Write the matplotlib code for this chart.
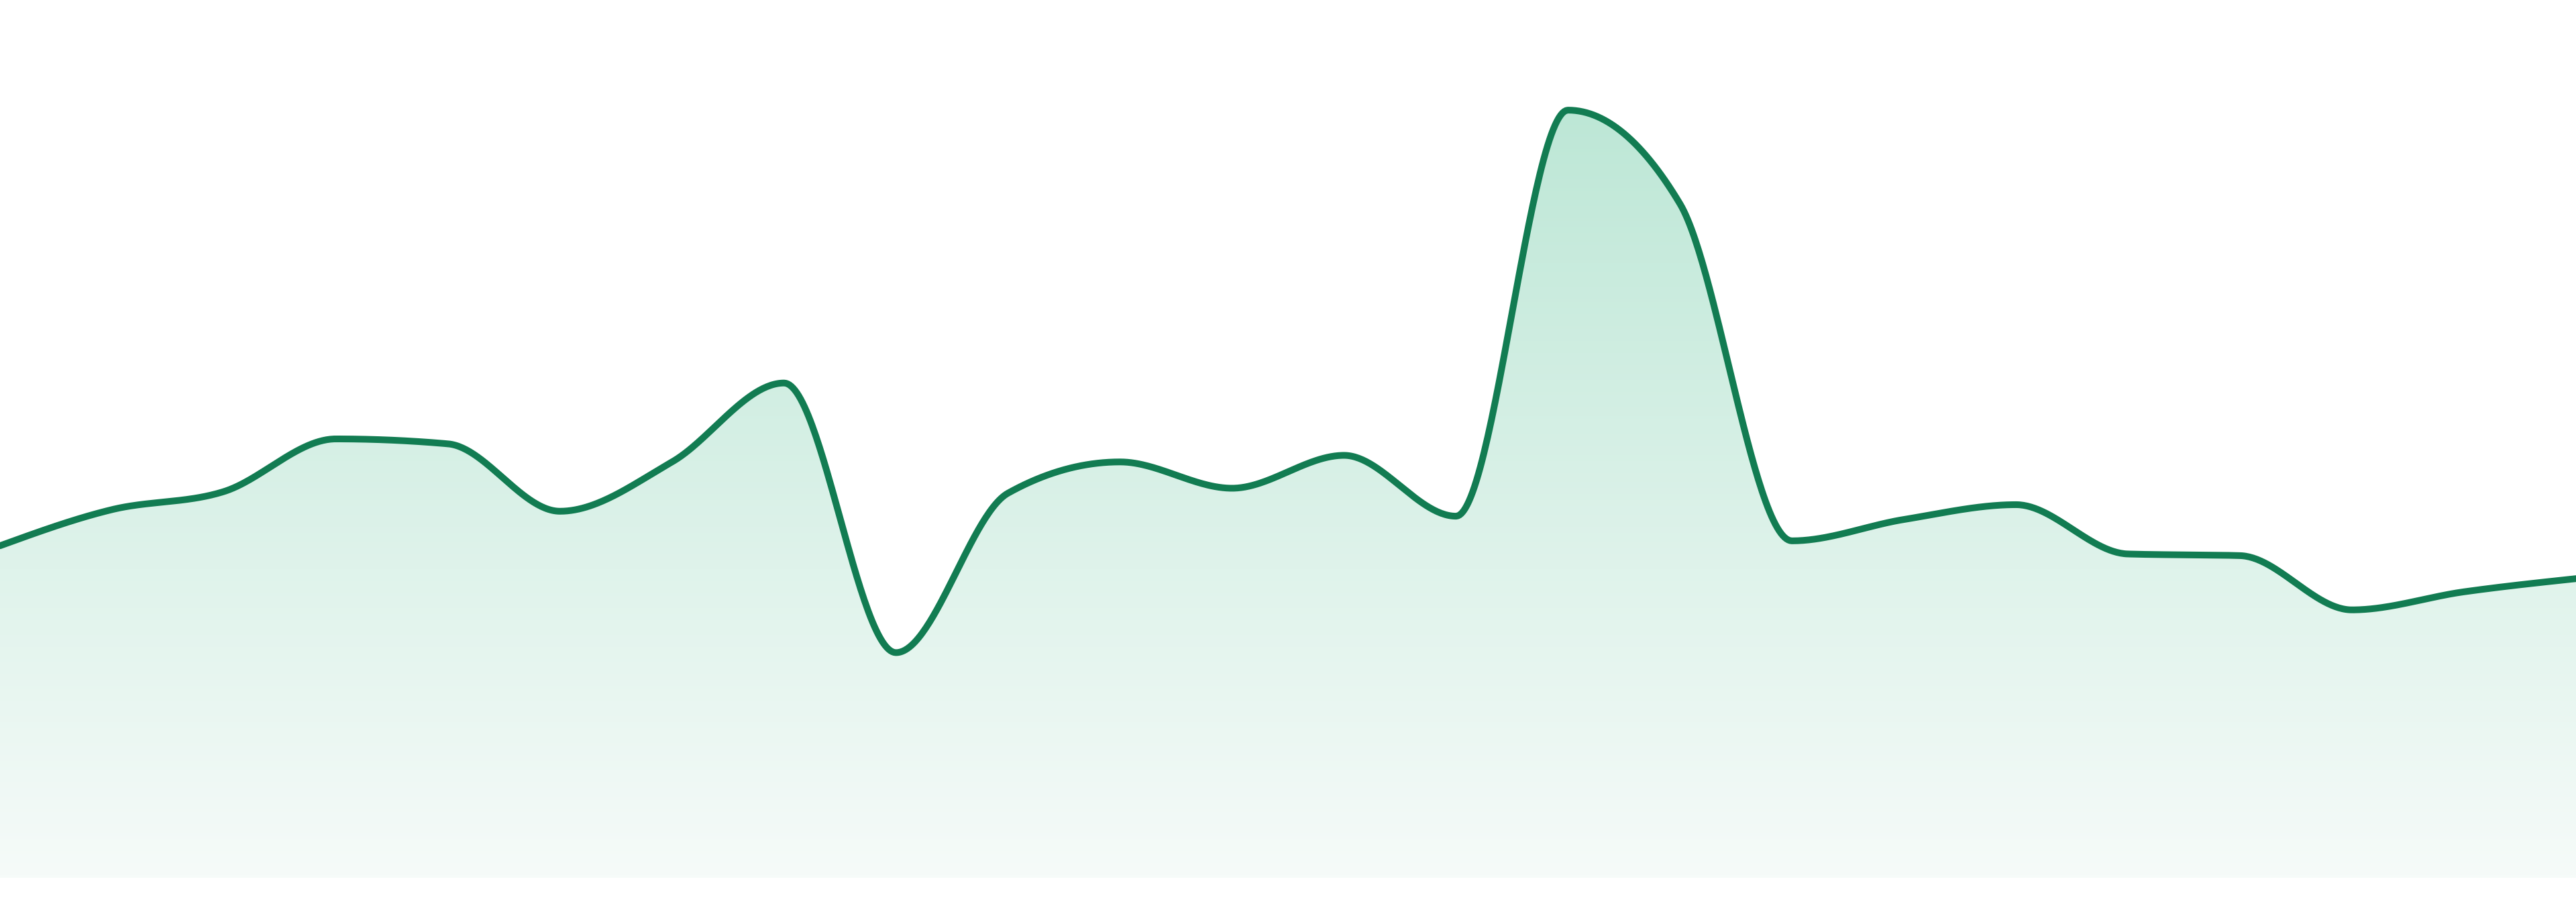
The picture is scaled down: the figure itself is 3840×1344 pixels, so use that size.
import numpy as np
import matplotlib
matplotlib.use('Agg')
import matplotlib.pyplot as plt
from matplotlib.colors import LinearSegmentedColormap

# 数据 (等间距的 24 个点)
points = list(range(24))
values = [202, 224, 235, 267, 264, 223, 253, 301, 137, 234, 253, 237,
          257, 220, 467, 410, 205, 218, 227, 197, 196, 163, 174, 182]

line_color = '#127c52'
fill_top = '#bde7d6'
fill_bottom = '#f6fbf9'


# d3 的 curveMonotoneX 插值
def monotone_x(x, y, n=60):
    x = np.asarray(x, float)
    y = np.asarray(y, float)
    h = np.diff(x)
    s = np.diff(y) / h
    t = np.zeros(len(x))
    for i in range(1, len(x) - 1):
        p = (s[i - 1] * h[i] + s[i] * h[i - 1]) / (h[i - 1] + h[i])
        t[i] = (np.sign(s[i - 1]) + np.sign(s[i])) * min(abs(s[i - 1]), abs(s[i]), 0.5 * abs(p))
    t[0] = (3 * s[0] - t[1]) / 2
    t[-1] = (3 * s[-1] - t[-2]) / 2
    xs, ys = [], []
    for i in range(len(x) - 1):
        u = np.linspace(0, 1, n, endpoint=False)
        h00 = 2 * u**3 - 3 * u**2 + 1
        h10 = u**3 - 2 * u**2 + u
        h01 = -2 * u**3 + 3 * u**2
        h11 = u**3 - u**2
        xs.append(x[i] + u * h[i])
        ys.append(h00 * y[i] + h10 * h[i] * t[i] + h01 * y[i + 1] + h11 * h[i] * t[i + 1])
    xs.append([x[-1]])
    ys.append([y[-1]])
    return np.concatenate(xs), np.concatenate(ys)


xs, ys = monotone_x(points, values)

fig = plt.figure(figsize=(38.4, 13.44), dpi=100)
ax = fig.add_axes([0, 0.0268, 1, 0.9732])
ax.axis('off')

# 渐变填充
poly = ax.fill_between(xs, ys, 0, color='none', lw=0)
cmap = LinearSegmentedColormap.from_list('g', [fill_bottom, fill_top])
top = max(values)
grad = np.linspace(0, 1, 256).reshape(-1, 1)
img = ax.imshow(grad, cmap=cmap, aspect='auto', origin='lower',
                extent=[0, 23, 0, top], zorder=1)
clip = poly.get_paths()[0]
img.set_clip_path(clip, transform=ax.transData)

ax.plot(xs, ys, color=line_color, lw=7.2, solid_capstyle='round', zorder=2)

# imshow 会改坐标范围，最后再设
ax.set_xlim(0, 23)
ax.set_ylim(0, 534)

fig.savefig('out.png', dpi=100, facecolor='white')
